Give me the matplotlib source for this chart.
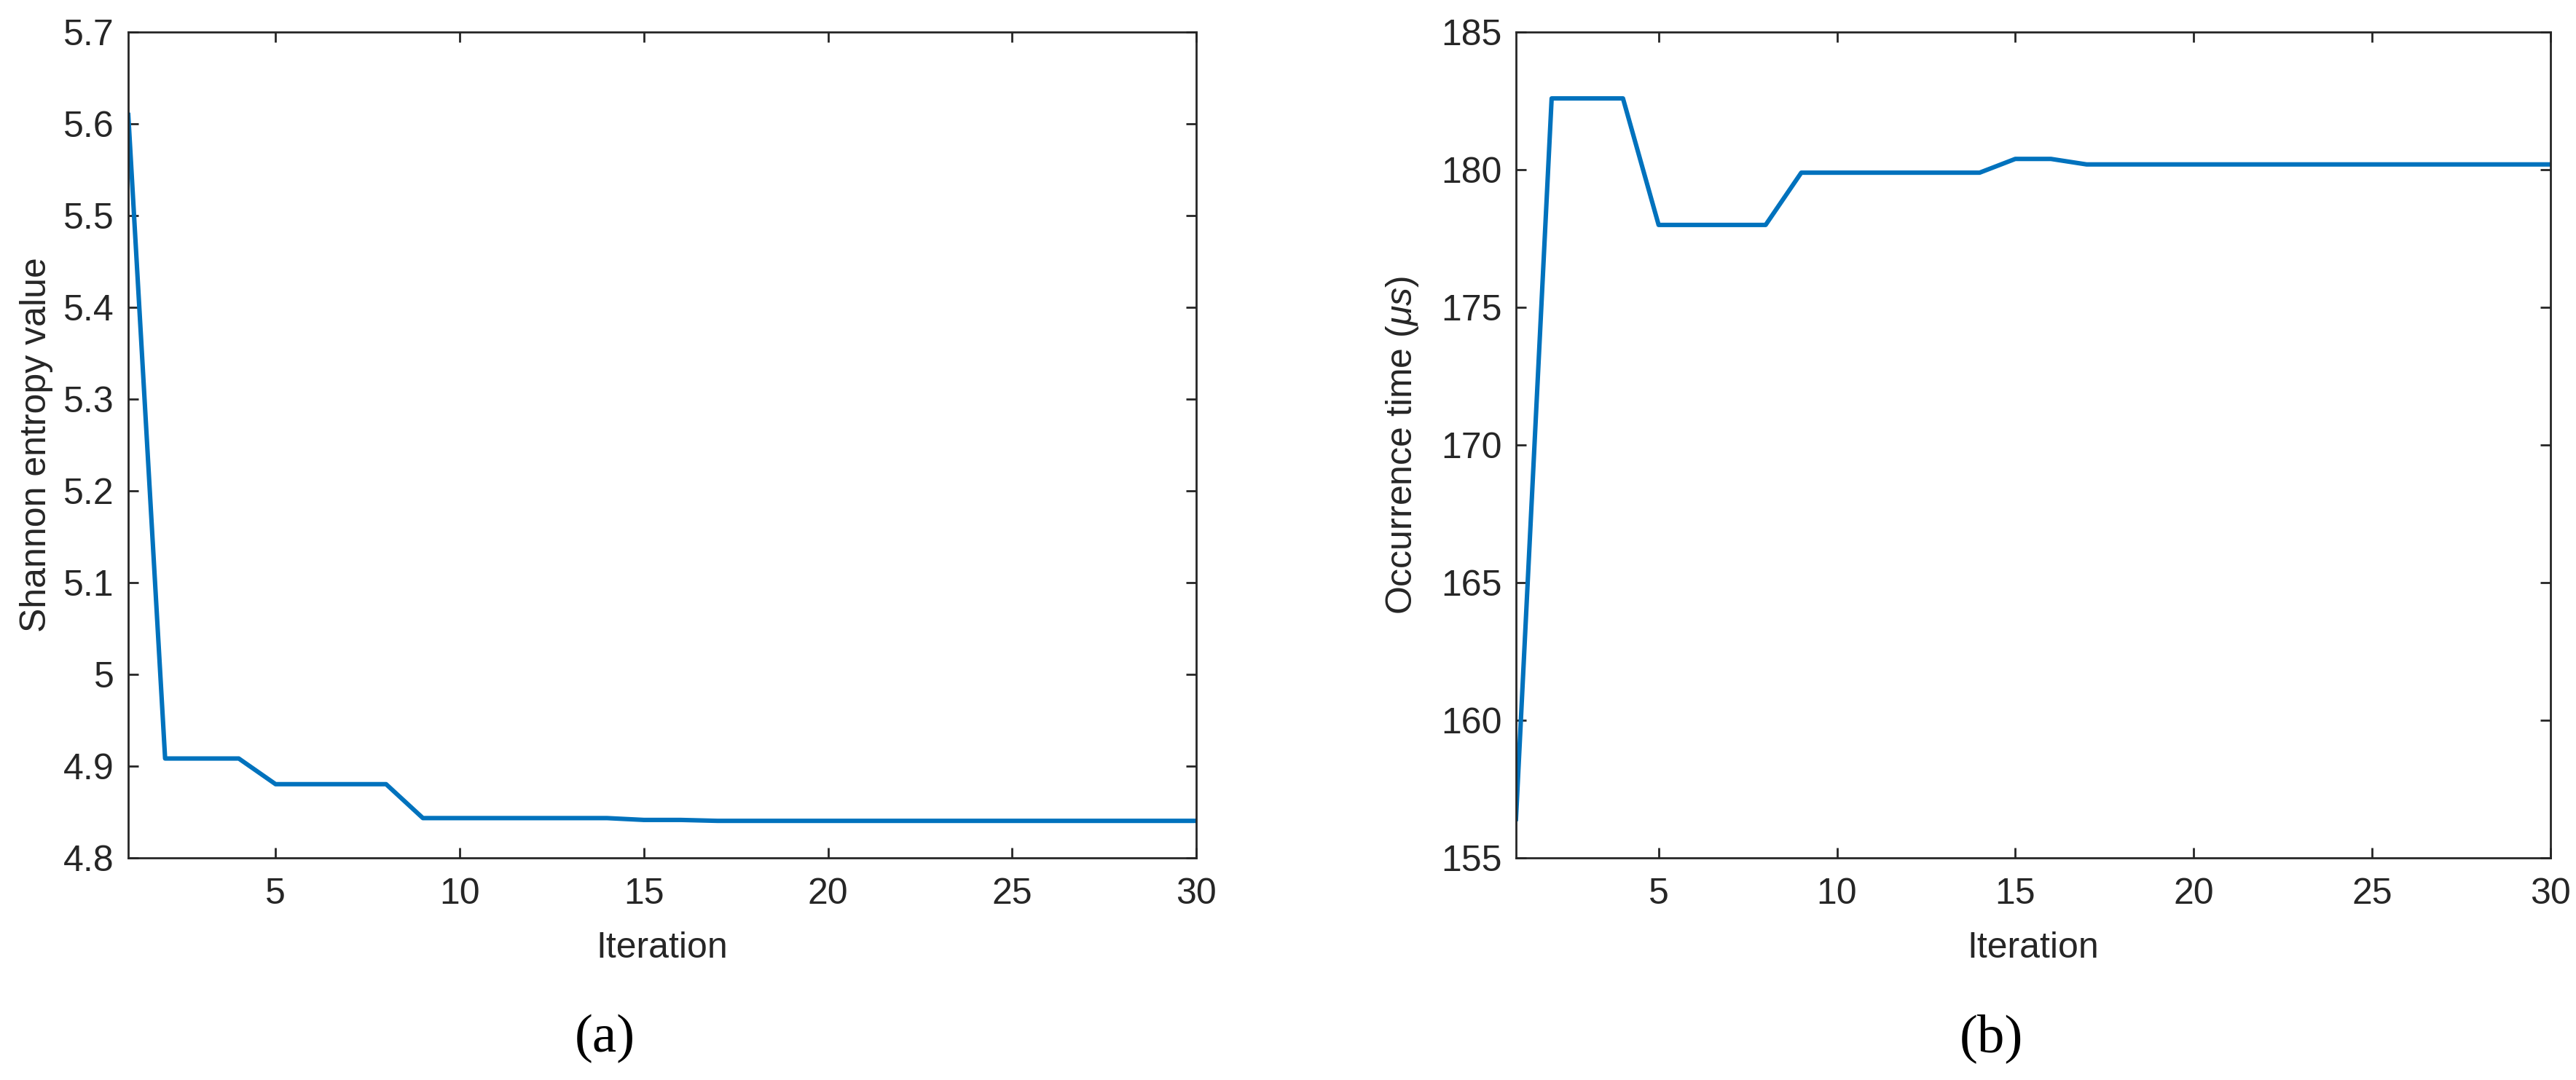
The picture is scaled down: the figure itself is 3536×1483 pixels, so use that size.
import numpy as np
import matplotlib
matplotlib.use("Agg")
import matplotlib.pyplot as plt

plt.rcParams['font.family'] = ['Liberation Sans', 'DejaVu Sans']
plt.rcParams['mathtext.fontset'] = 'custom'
plt.rcParams['mathtext.it'] = 'Liberation Sans:italic'
plt.rcParams['mathtext.rm'] = 'Liberation Sans'

# data
iteration = np.arange(1, 31)
entropy = [5.61, 4.908, 4.908, 4.908, 4.880, 4.880, 4.880, 4.880, 4.843, 4.843,
           4.843, 4.843, 4.843, 4.843, 4.841, 4.841, 4.840, 4.840, 4.840, 4.840,
           4.840, 4.840, 4.840, 4.840, 4.840, 4.840, 4.840, 4.840, 4.840, 4.840]
occ_time = [156.4, 182.6, 182.6, 182.6, 178.0, 178.0, 178.0, 178.0, 179.9, 179.9,
            179.9, 179.9, 179.9, 179.9, 180.4, 180.4, 180.2, 180.2, 180.2, 180.2,
            180.2, 180.2, 180.2, 180.2, 180.2, 180.2, 180.2, 180.2, 180.2, 180.2]

xticks = [5, 10, 15, 20, 25, 30]
yticks_a = [4.8, 4.9, 5.0, 5.1, 5.2, 5.3, 5.4, 5.5, 5.6, 5.7]
ylabels_a = ['4.8', '4.9', '5', '5.1', '5.2', '5.3', '5.4', '5.5', '5.6', '5.7']
yticks_b = [155, 160, 165, 170, 175, 180, 185]

blue = '#0072BD'
dark = '#262626'
fs = 18

fig = plt.figure(figsize=(17.68, 7.415), dpi=200)
ax1 = fig.add_axes([0.0498, 0.206, 0.4146, 0.764])
ax2 = fig.add_axes([0.5885, 0.206, 0.4015, 0.764])

def style(ax):
    for s in ax.spines.values():
        s.set_color(dark)
        s.set_linewidth(1.0)
    ax.tick_params(direction='in', top=True, right=True, length=5,
                   width=1.0, color=dark, labelcolor=dark, labelsize=fs, pad=7)
    ax.tick_params(axis='x', pad=10)
    ax.set_xlim(1, 30)
    ax.set_xticks(xticks)
    ax.set_xlabel('Iteration', fontsize=fs, color=dark, labelpad=10)

ax1.plot(iteration, entropy, color=blue, lw=2.2)
style(ax1)
ax1.set_ylim(4.8, 5.7)
ax1.set_yticks(yticks_a)
ax1.set_yticklabels(ylabels_a)
ax1.set_ylabel('Shannon entropy value', fontsize=fs, color=dark, labelpad=5)

ax2.plot(iteration, occ_time, color=blue, lw=2.2)
style(ax2)
ax2.set_ylim(155, 185)
ax2.set_yticks(yticks_b)
ax2.set_ylabel(r'Occurrence time ($\mu s$)', fontsize=fs, color=dark, labelpad=10)

fig.text(0.2347, 0.038, '(a)', fontsize=27, family=['Liberation Serif', 'DejaVu Serif'],
         ha='center', va='center')
fig.text(0.773, 0.038, '(b)', fontsize=27, family=['Liberation Serif', 'DejaVu Serif'],
         ha='center', va='center')

fig.savefig('out.png', dpi=200)
